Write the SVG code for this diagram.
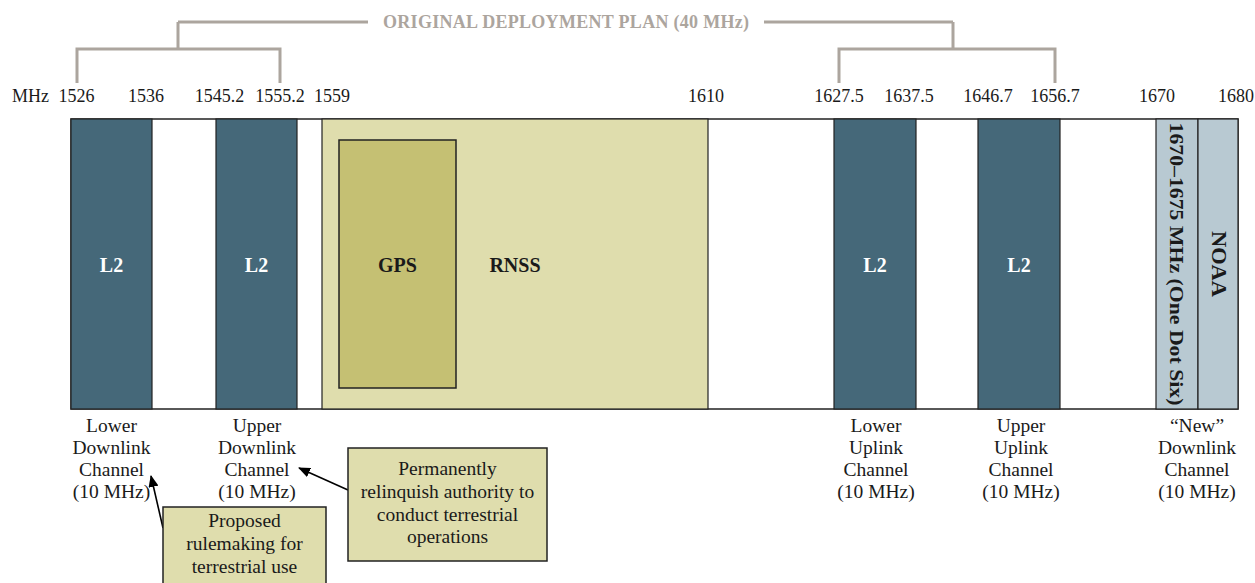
<svg xmlns="http://www.w3.org/2000/svg" width="1255" height="583" viewBox="0 0 1255 583">
<style>
  .t{font-family:"Liberation Serif","Times New Roman",serif;font-size:18px;fill:#1a1a1a}
  .lbl{font-size:19.5px}
  .c{text-anchor:middle}
  .b{font-weight:bold;font-size:20px}
  .w{fill:#ffffff}
  .hdr{font-family:"Liberation Serif","Times New Roman",serif;font-size:18px;font-weight:bold;fill:#aca59e;text-anchor:middle}
  .brk{fill:none;stroke:#aca59e;stroke-width:3}
  .l2{fill:#456879;stroke:#222;stroke-width:1.2}
  .rn{fill:#dfddad;stroke:#222;stroke-width:1.2}
  .gp{fill:#c5c073;stroke:#222;stroke-width:1.5}
  .lb{fill:#b8c9d2;stroke:#222;stroke-width:1.2}
  .co{fill:#dfddad;stroke:#222;stroke-width:1.5}
  .arr{stroke:#000;stroke-width:1.6;fill:none;marker-end:url(#ah)}
</style>
<defs>
  <marker id="ah" viewBox="0 0 12 10" refX="11" refY="5" markerWidth="12" markerHeight="10" markerUnits="userSpaceOnUse" orient="auto">
    <path d="M0,0 L12,5 L0,10 Z" fill="#000"/>
  </marker>
</defs>
<rect x="0" y="0" width="1255" height="583" fill="#ffffff"/>

<g id="header">
  <path class="brk" d="M178,22 H368 M764,22 H953"/>
  <path class="brk" d="M77,83 V49 H280 V83 M178,49 V22"/>
  <path class="brk" d="M839,83 V49 H1055 V83 M953,49 V22"/>
  <text class="hdr" x="566" y="28" textLength="366" lengthAdjust="spacing">ORIGINAL DEPLOYMENT PLAN (40 MHz)</text>
</g>

<g id="ticks" class="t">
  <text x="12" y="102">MHz</text>
  <text class="c" x="76.5" y="102">1526</text>
  <text class="c" x="146" y="102">1536</text>
  <text class="c" x="219.5" y="102">1545.2</text>
  <text class="c" x="280" y="102">1555.2</text>
  <text class="c" x="332" y="102">1559</text>
  <text class="c" x="706" y="102">1610</text>
  <text class="c" x="839" y="102">1627.5</text>
  <text class="c" x="909" y="102">1637.5</text>
  <text class="c" x="988" y="102">1646.7</text>
  <text class="c" x="1055" y="102">1656.7</text>
  <text class="c" x="1157" y="102">1670</text>
  <text class="c" x="1236" y="102">1680</text>
</g>

<g id="strip">
  <rect x="71" y="119" width="1167" height="290" fill="#ffffff" stroke="#222" stroke-width="1.5"/>
</g>
<g id="lower-downlink-block">
  <rect class="l2" x="71" y="119" width="81" height="290"/>
  <text class="t c b w" x="111.5" y="272">L2</text>
</g>
<g id="upper-downlink-block">
  <rect class="l2" x="216" y="119" width="81" height="290"/>
  <text class="t c b w" x="256.5" y="272">L2</text>
</g>
<g id="rnss">
  <rect class="rn" x="322" y="119" width="386" height="290"/>
  <text class="t c b" x="515" y="272">RNSS</text>
</g>
<g id="gps">
  <rect class="gp" x="339" y="140" width="117" height="248"/>
  <text class="t c b" x="397.5" y="272">GPS</text>
</g>
<g id="lower-uplink-block">
  <rect class="l2" x="834" y="119" width="82" height="290"/>
  <text class="t c b w" x="875" y="272">L2</text>
</g>
<g id="upper-uplink-block">
  <rect class="l2" x="978" y="119" width="82" height="290"/>
  <text class="t c b w" x="1019" y="272">L2</text>
</g>
<g id="one-dot-six">
  <rect class="lb" x="1156" y="119" width="42" height="290"/>
  <text class="t c b" transform="translate(1170,264) rotate(90)" x="0" y="0" textLength="283" lengthAdjust="spacingAndGlyphs" style="font-size:19.5px">1670–1675 MHz (One Dot Six)</text>
</g>
<g id="noaa">
  <rect class="lb" x="1198" y="119" width="40" height="290"/>
  <text class="t c b" transform="translate(1212,264) rotate(90)" x="0" y="0" textLength="66" lengthAdjust="spacingAndGlyphs">NOAA</text>
</g>

<g id="label-lower-downlink" class="t lbl c">
  <text x="111.5" y="432">Lower</text>
  <text x="111.5" y="454">Downlink</text>
  <text x="111.5" y="476">Channel</text>
  <text x="111.5" y="498">(10 MHz)</text>
</g>
<g id="label-upper-downlink" class="t lbl c">
  <text x="257" y="432">Upper</text>
  <text x="257" y="454">Downlink</text>
  <text x="257" y="476">Channel</text>
  <text x="257" y="498">(10 MHz)</text>
</g>
<g id="label-lower-uplink" class="t lbl c">
  <text x="876" y="432">Lower</text>
  <text x="876" y="454">Uplink</text>
  <text x="876" y="476">Channel</text>
  <text x="876" y="498">(10 MHz)</text>
</g>
<g id="label-upper-uplink" class="t lbl c">
  <text x="1021" y="432">Upper</text>
  <text x="1021" y="454">Uplink</text>
  <text x="1021" y="476">Channel</text>
  <text x="1021" y="498">(10 MHz)</text>
</g>
<g id="label-new-downlink" class="t lbl c">
  <text x="1197" y="432">“New”</text>
  <text x="1197" y="454">Downlink</text>
  <text x="1197" y="476">Channel</text>
  <text x="1197" y="498">(10 MHz)</text>
</g>

<g id="connectors">
  <line class="arr" x1="163" y1="528" x2="151" y2="476"/>
  <line class="arr" x1="348" y1="490" x2="299" y2="468"/>
</g>

<g id="callout-proposed" class="t lbl c">
  <rect class="co" x="163" y="507" width="163" height="90"/>
  <text x="244.5" y="527">Proposed</text>
  <text x="244.5" y="550">rulemaking for</text>
  <text x="244.5" y="573">terrestrial use</text>
</g>
<g id="callout-relinquish" class="t lbl c">
  <rect class="co" x="348" y="448" width="199" height="113"/>
  <text x="447.5" y="475">Permanently</text>
  <text x="447.5" y="498">relinquish authority to</text>
  <text x="447.5" y="521">conduct terrestrial</text>
  <text x="447.5" y="543">operations</text>
</g>
</svg>
